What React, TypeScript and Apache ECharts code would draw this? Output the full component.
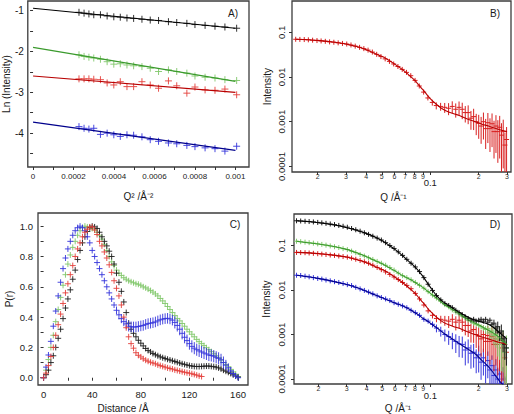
import React, { useEffect, useRef } from 'react';
import * as echarts from 'echarts';

// ---------- Panel A: Guinier plots ----------
const A_Q2 = [0.000227, 0.000252, 0.000276, 0.0003, 0.000333, 0.000366, 0.000399, 0.000431, 0.000464, 0.000497, 0.000538, 0.000579, 0.00062, 0.000669, 0.00071, 0.00076, 0.0008, 0.00085, 0.000899, 0.000948, 0.001006];
const A_BLACK = [-1.04, -1.06, -1.08, -1.10, -1.10, -1.13, -1.15, -1.16, -1.18, -1.19, -1.21, -1.23, -1.24, -1.27, -1.29, -1.31, -1.34, -1.36, -1.38, -1.40, -1.43];
const A_GREEN = [-2.08, -2.12, -2.14, -2.16, -2.19, -2.25, -2.31, -2.30, -2.33, -2.35, -2.37, -2.41, -2.49, -2.45, -2.49, -2.53, -2.60, -2.63, -2.65, -2.69, -2.71];
const A_RED = [-2.67, -2.67, -2.67, -2.68, -2.69, -2.77, -2.82, -2.74, -2.86, -2.86, -2.74, -2.82, -2.90, -2.72, -2.84, -3.02, -2.87, -2.94, -2.95, -2.92, -3.06];
const A_BLUE = [-3.84, -3.88, -3.90, -3.88, -4.03, -4.00, -4.04, -4.08, -4.04, -4.05, -4.09, -4.16, -4.20, -4.24, -4.26, -4.30, -4.33, -4.36, -4.38, -4.44, -4.32];
const A_FIT_X = [0, 0.001];
const A_FIT_BLACK = [-0.94, -1.43];
const A_FIT_GREEN = [-1.9, -2.73];
const A_FIT_RED = [-2.6, -3.0];
const A_FIT_BLUE = [-3.73, -4.42];
const A_X_TICKS = [0, 0.0001, 0.0002, 0.0003, 0.0004, 0.0005, 0.0006, 0.0007, 0.0008, 0.0009, 0.001];
const A_X_LABELS = [0, 0.0002, 0.0004, 0.0006, 0.0008, 0.001];
const A_X_LABEL_TEXT = ['0', '0.0002', '0.0004', '0.0006', '0.0008', '0.001'];
const A_Y_TICKS = [-1, -1.5, -2, -2.5, -3, -3.5, -4, -4.5];
const A_Y_LABELS = [-1, -2, -3, -4];
const A_Y_LABEL_TEXT = ['-1', '-2', '-3', '-4'];

// ---------- Panels B & D: scattering curves ----------
const Q = [0.0146, 0.0155, 0.0165, 0.0175, 0.0186, 0.0198, 0.021, 0.0223, 0.0237, 0.0252, 0.0268, 0.0285, 0.0303, 0.0322, 0.0342, 0.0364, 0.0387, 0.0411, 0.0437, 0.0465, 0.0494, 0.0525, 0.0558, 0.0593, 0.063, 0.067, 0.0712, 0.0757, 0.0805, 0.0855, 0.091, 0.0967, 0.103, 0.109, 0.116, 0.123, 0.13, 0.137, 0.144, 0.151, 0.158, 0.165, 0.172, 0.179, 0.186, 0.193, 0.2, 0.207, 0.214, 0.221, 0.228, 0.235, 0.242, 0.249, 0.256, 0.263, 0.27, 0.277, 0.284, 0.291, 0.298];
const RED_I = [0.0700, 0.0695, 0.0690, 0.0680, 0.0668, 0.0655, 0.0642, 0.0630, 0.0612, 0.0600, 0.0582, 0.0565, 0.0548, 0.0522, 0.0492, 0.0462, 0.0432, 0.0400, 0.0362, 0.0322, 0.0287, 0.0255, 0.0224, 0.0196, 0.0172, 0.0148, 0.0127, 0.0107, 0.0084, 0.0063, 0.0046, 0.0034, 0.0027, 0.0023, 0.0022, 0.0021, 0.0020, 0.0022, 0.0019, 0.0021, 0.0019, 0.0016, 0.0016, 0.0012, 0.0013, 0.0010, 0.00092, 0.0008, 0.0010, 0.0007, 0.00095, 0.0007, 0.0009, 0.0006, 0.0008, 0.0006, 0.00075, 0.0005, 0.0006, 0.0003, 0.0004];
const RED_E = [0.03, 0.03, 0.03, 0.03, 0.03, 0.03, 0.03, 0.03, 0.03, 0.03, 0.03, 0.03, 0.03, 0.03, 0.03, 0.03, 0.03, 0.03, 0.03, 0.03, 0.03, 0.03, 0.03, 0.04, 0.04, 0.05, 0.05, 0.06, 0.07, 0.08, 0.1, 0.12, 0.15, 0.18, 0.2, 0.25, 0.3, 0.3, 0.35, 0.35, 0.4, 0.4, 0.45, 0.45, 0.5, 0.5, 0.55, 0.6, 0.6, 0.65, 0.65, 0.7, 0.7, 0.75, 0.75, 0.8, 0.8, 0.85, 0.85, 0.9, 0.9];
const BLACK_I = [0.360, 0.356, 0.351, 0.346, 0.339, 0.331, 0.323, 0.315, 0.305, 0.295, 0.283, 0.271, 0.258, 0.241, 0.226, 0.210, 0.193, 0.178, 0.162, 0.147, 0.133, 0.116, 0.100, 0.086, 0.072, 0.060, 0.049, 0.040, 0.033, 0.026, 0.019, 0.0135, 0.0098, 0.0075, 0.0060, 0.0050, 0.0045, 0.0040, 0.0035, 0.0031, 0.0028, 0.0025, 0.0023, 0.0021, 0.0022, 0.0020, 0.0021, 0.0022, 0.0020, 0.0022, 0.0019, 0.0021, 0.0017, 0.0018, 0.0014, 0.0015, 0.0011, 0.0012, 0.0008, 0.0006, 0.0005];
const BLACK_E = [0.03, 0.03, 0.03, 0.03, 0.03, 0.03, 0.03, 0.03, 0.03, 0.03, 0.03, 0.03, 0.03, 0.03, 0.03, 0.03, 0.03, 0.03, 0.03, 0.03, 0.03, 0.03, 0.03, 0.03, 0.03, 0.03, 0.03, 0.03, 0.03, 0.03, 0.03, 0.05, 0.05, 0.05, 0.05, 0.05, 0.08, 0.08, 0.08, 0.08, 0.08, 0.08, 0.08, 0.08, 0.08, 0.12, 0.12, 0.12, 0.12, 0.12, 0.12, 0.12, 0.12, 0.2, 0.25, 0.3, 0.35, 0.4, 0.5, 0.55, 0.6];
const GREEN_I = [0.125, 0.122, 0.119, 0.116, 0.113, 0.109, 0.106, 0.102, 0.098, 0.094, 0.090, 0.085, 0.081, 0.075, 0.069, 0.063, 0.058, 0.053, 0.0487, 0.044, 0.040, 0.036, 0.032, 0.028, 0.024, 0.021, 0.019, 0.017, 0.0148, 0.0128, 0.0110, 0.0092, 0.0077, 0.0066, 0.0056, 0.0047, 0.0042, 0.0036, 0.0032, 0.0029, 0.0026, 0.0024, 0.0021, 0.0020, 0.0018, 0.0017, 0.0016, 0.0015, 0.0014, 0.0013, 0.00135, 0.0011, 0.0012, 0.00095, 0.0010, 0.0008, 0.0009, 0.0006, 0.0007, 0.0004, 0.0005];
const GREEN_E = [0.03, 0.03, 0.03, 0.03, 0.03, 0.03, 0.03, 0.03, 0.03, 0.03, 0.03, 0.03, 0.03, 0.03, 0.03, 0.03, 0.03, 0.03, 0.03, 0.03, 0.03, 0.03, 0.03, 0.03, 0.03, 0.03, 0.03, 0.03, 0.03, 0.03, 0.03, 0.05, 0.05, 0.05, 0.05, 0.05, 0.05, 0.05, 0.05, 0.05, 0.05, 0.08, 0.08, 0.08, 0.08, 0.08, 0.08, 0.12, 0.15, 0.2, 0.25, 0.3, 0.35, 0.4, 0.5, 0.6, 0.7, 0.75, 0.8, 0.85, 0.9];
const BLUE_I = [0.0215, 0.0212, 0.0205, 0.0198, 0.0190, 0.0182, 0.0176, 0.0168, 0.0161, 0.0154, 0.0148, 0.0140, 0.0132, 0.0126, 0.0115, 0.0106, 0.0098, 0.0090, 0.0082, 0.0074, 0.0068, 0.0063, 0.0058, 0.0052, 0.0048, 0.0044, 0.0040, 0.0035, 0.0031, 0.0027, 0.0022, 0.0020, 0.0017, 0.0014, 0.0012, 0.0010, 0.0009, 0.00078, 0.0007, 0.00062, 0.0006, 0.00045, 0.0005, 0.00038, 0.0004, 0.0003, 0.00035, 0.00024, 0.0003, 0.0002, 0.00026, 0.00016, 0.0002, 0.00012, 0.00016, 0.0001, 0.00013, 0.00008, 0.0001, 0.00006, 0.00007];
const BLUE_E = [0.03, 0.03, 0.03, 0.03, 0.03, 0.03, 0.03, 0.03, 0.03, 0.03, 0.03, 0.03, 0.03, 0.03, 0.03, 0.03, 0.03, 0.03, 0.03, 0.03, 0.03, 0.03, 0.03, 0.03, 0.03, 0.03, 0.05, 0.05, 0.05, 0.05, 0.05, 0.1, 0.15, 0.2, 0.25, 0.3, 0.35, 0.4, 0.45, 0.5, 0.5, 0.55, 0.55, 0.55, 0.55, 0.55, 0.6, 0.6, 0.6, 0.6, 0.6, 0.7, 0.7, 0.75, 0.75, 0.8, 0.8, 0.85, 0.85, 0.9, 0.9];

const FIT_Q = [0.0146, 0.02, 0.025, 0.03, 0.035, 0.04, 0.045, 0.05, 0.055, 0.06, 0.065, 0.07, 0.075, 0.08, 0.085, 0.09, 0.095, 0.1, 0.11, 0.12, 0.13, 0.14, 0.15, 0.17, 0.19, 0.21, 0.23, 0.25, 0.27, 0.3];
const RED_FIT = [0.070, 0.066, 0.061, 0.055, 0.048, 0.041, 0.034, 0.029, 0.024, 0.0195, 0.016, 0.013, 0.0105, 0.0085, 0.0066, 0.0052, 0.0041, 0.0033, 0.0024, 0.0019, 0.00165, 0.0015, 0.0014, 0.00115, 0.001, 0.00088, 0.0008, 0.00072, 0.00066, 0.0006];
const BLACK_FIT = [0.36, 0.325, 0.29, 0.252, 0.217, 0.185, 0.155, 0.128, 0.102, 0.082, 0.065, 0.051, 0.041, 0.033, 0.026, 0.020, 0.015, 0.0115, 0.0073, 0.0054, 0.0045, 0.0038, 0.0032, 0.0025, 0.0021, 0.0019, 0.0017, 0.0014, 0.0011, 0.0008];
const GREEN_FIT = [0.125, 0.108, 0.095, 0.082, 0.068, 0.056, 0.046, 0.039, 0.032, 0.027, 0.0225, 0.0195, 0.0172, 0.015, 0.013, 0.0113, 0.0097, 0.0084, 0.0064, 0.005, 0.0041, 0.0035, 0.003, 0.0022, 0.0018, 0.0015, 0.00125, 0.00105, 0.00085, 0.0006];
const BLUE_FIT = [0.0215, 0.0183, 0.0155, 0.0133, 0.0112, 0.0093, 0.0078, 0.0067, 0.0058, 0.0051, 0.0046, 0.0041, 0.0036, 0.0031, 0.0027, 0.0023, 0.00205, 0.0018, 0.0014, 0.0011, 0.0009, 0.00075, 0.00064, 0.00048, 0.00037, 0.00026, 0.00019, 0.00013, 0.00009, 0.00006];

const LOGX_TICKS = [0.02, 0.03, 0.04, 0.05, 0.06, 0.07, 0.08, 0.09, 0.1, 0.2, 0.3];
const LOGX_TEXT = ['2', '3', '4', '5', '6', '7', '8', '9', '0.1', '2', '3'];
const LOGY_TICKS = [0.0001, 0.001, 0.01, 0.1];
const LOGY_TEXT = ['0.0001', '0.001', '0.01', '0.1'];

// ---------- Panel C: P(r) ----------
const R = [0, 2, 4, 6, 8, 10, 12, 14, 16, 18, 20, 22, 24, 26, 28, 30, 32, 34, 36, 38, 40, 42, 44, 46, 48, 50, 52, 54, 56, 58, 60, 62, 64, 66, 68, 70, 72, 74, 76, 78, 80, 82, 84, 86, 88, 90, 92, 94, 96, 98, 100, 102, 104, 106, 108, 110, 112, 114, 116, 118, 120, 122, 124, 126, 128, 130, 132, 134, 136, 138, 140, 142, 144, 146, 148, 150, 152, 154, 156, 158, 160];
const P_BLUE = [0.0, 0.07, 0.15, 0.24, 0.34, 0.44, 0.54, 0.63, 0.72, 0.79, 0.85, 0.90, 0.94, 0.97, 0.99, 1.0, 0.99, 0.97, 0.93, 0.89, 0.84, 0.80, 0.76, 0.72, 0.68, 0.64, 0.60, 0.56, 0.52, 0.48, 0.445, 0.415, 0.39, 0.37, 0.355, 0.34, 0.336, 0.335, 0.335, 0.338, 0.342, 0.345, 0.352, 0.357, 0.36, 0.363, 0.368, 0.375, 0.382, 0.387, 0.39, 0.392, 0.388, 0.38, 0.365, 0.345, 0.32, 0.293, 0.267, 0.245, 0.225, 0.207, 0.195, 0.185, 0.177, 0.17, 0.163, 0.157, 0.15, 0.147, 0.142, 0.135, 0.128, 0.118, 0.10, 0.083, 0.065, 0.045, 0.028, 0.012, 0.0];
const P_BLUE_E = [0.01, 0.012, 0.015, 0.015, 0.015, 0.015, 0.015, 0.015, 0.015, 0.015, 0.02, 0.02, 0.02, 0.02, 0.02, 0.02, 0.02, 0.02, 0.02, 0.02, 0.02, 0.02, 0.02, 0.02, 0.02, 0.02, 0.02, 0.02, 0.02, 0.02, 0.025, 0.03, 0.03, 0.03, 0.035, 0.035, 0.035, 0.035, 0.035, 0.035, 0.035, 0.035, 0.035, 0.035, 0.035, 0.035, 0.035, 0.035, 0.035, 0.035, 0.035, 0.035, 0.035, 0.035, 0.04, 0.04, 0.04, 0.04, 0.04, 0.04, 0.04, 0.04, 0.04, 0.04, 0.04, 0.04, 0.04, 0.04, 0.04, 0.04, 0.04, 0.04, 0.04, 0.04, 0.04, 0.035, 0.03, 0.025, 0.02, 0.015, 0.01];
const P_GREEN = [0.0, 0.05, 0.12, 0.2, 0.28, 0.37, 0.45, 0.53, 0.61, 0.68, 0.75, 0.81, 0.86, 0.90, 0.94, 0.97, 0.99, 1.0, 0.995, 0.99, 0.985, 0.975, 0.96, 0.94, 0.915, 0.88, 0.84, 0.80, 0.765, 0.74, 0.71, 0.69, 0.675, 0.66, 0.65, 0.64, 0.633, 0.627, 0.62, 0.617, 0.61, 0.60, 0.593, 0.585, 0.575, 0.565, 0.553, 0.54, 0.523, 0.507, 0.49, 0.47, 0.45, 0.43, 0.41, 0.39, 0.375, 0.358, 0.34, 0.32, 0.303, 0.287, 0.27, 0.253, 0.238, 0.225, 0.212, 0.198, 0.185, 0.172, 0.158, 0.145, 0.132, 0.117, 0.10, 0.087, 0.072, 0.055, 0.038, 0.022, 0.008];
const P_GREEN_E = [0.005, 0.006, 0.008, 0.008, 0.008, 0.008, 0.008, 0.008, 0.008, 0.008, 0.008, 0.008, 0.008, 0.008, 0.008, 0.008, 0.008, 0.008, 0.008, 0.008, 0.008, 0.008, 0.008, 0.008, 0.008, 0.008, 0.008, 0.008, 0.008, 0.008, 0.008, 0.008, 0.008, 0.008, 0.008, 0.008, 0.008, 0.008, 0.008, 0.008, 0.008, 0.008, 0.008, 0.008, 0.008, 0.008, 0.008, 0.008, 0.008, 0.008, 0.008, 0.008, 0.008, 0.008, 0.008, 0.008, 0.008, 0.008, 0.008, 0.008, 0.008, 0.008, 0.008, 0.008, 0.008, 0.008, 0.008, 0.008, 0.008, 0.008, 0.008, 0.008, 0.008, 0.008, 0.008, 0.008, 0.008, 0.007, 0.006, 0.005, 0.004];
const P_RED = [0.0, 0.03, 0.08, 0.14, 0.2, 0.28, 0.35, 0.42, 0.49, 0.56, 0.62, 0.68, 0.74, 0.80, 0.85, 0.89, 0.93, 0.96, 0.98, 0.995, 0.995, 0.975, 0.945, 0.90, 0.87, 0.83, 0.79, 0.745, 0.695, 0.64, 0.59, 0.54, 0.48, 0.40, 0.33, 0.27, 0.225, 0.195, 0.165, 0.148, 0.137, 0.125, 0.116, 0.109, 0.102, 0.097, 0.092, 0.085, 0.08, 0.075, 0.07, 0.065, 0.061, 0.057, 0.052, 0.048, 0.044, 0.04, 0.036, 0.033, 0.03, 0.026, 0.022, 0.017, 0.012, 0.008];
const P_RED_E = [0.005, 0.008, 0.01, 0.01, 0.01, 0.01, 0.01, 0.01, 0.01, 0.01, 0.01, 0.01, 0.01, 0.01, 0.01, 0.01, 0.01, 0.01, 0.01, 0.01, 0.01, 0.01, 0.012, 0.012, 0.015, 0.015, 0.015, 0.015, 0.015, 0.015, 0.018, 0.02, 0.02, 0.02, 0.02, 0.02, 0.02, 0.02, 0.02, 0.02, 0.02, 0.02, 0.02, 0.02, 0.02, 0.02, 0.02, 0.02, 0.02, 0.02, 0.02, 0.02, 0.02, 0.02, 0.02, 0.02, 0.02, 0.02, 0.02, 0.02, 0.02, 0.02, 0.018, 0.015, 0.012, 0.01];
const P_BLACK = [0.0, 0.02, 0.05, 0.10, 0.145, 0.2, 0.26, 0.32, 0.39, 0.46, 0.52, 0.58, 0.65, 0.71, 0.78, 0.84, 0.89, 0.93, 0.965, 0.99, 1.0, 0.995, 0.985, 0.96, 0.93, 0.90, 0.87, 0.835, 0.80, 0.75, 0.69, 0.63, 0.57, 0.50, 0.43, 0.36, 0.32, 0.293, 0.27, 0.247, 0.228, 0.21, 0.193, 0.18, 0.17, 0.16, 0.152, 0.145, 0.138, 0.132, 0.127, 0.122, 0.117, 0.112, 0.107, 0.102, 0.097, 0.092, 0.088, 0.084, 0.08, 0.077, 0.075, 0.074, 0.074, 0.075, 0.076, 0.077, 0.077, 0.075, 0.073, 0.07, 0.065, 0.058, 0.05, 0.043, 0.036, 0.028, 0.019, 0.011, 0.004];
const P_BLACK_E = [0.005, 0.008, 0.01, 0.01, 0.01, 0.01, 0.01, 0.01, 0.01, 0.01, 0.01, 0.01, 0.01, 0.01, 0.01, 0.01, 0.01, 0.01, 0.01, 0.01, 0.01, 0.01, 0.01, 0.012, 0.012, 0.015, 0.015, 0.015, 0.015, 0.018, 0.02, 0.02, 0.02, 0.02, 0.02, 0.02, 0.018, 0.015, 0.015, 0.015, 0.012, 0.012, 0.012, 0.012, 0.012, 0.012, 0.012, 0.012, 0.012, 0.012, 0.012, 0.012, 0.012, 0.012, 0.012, 0.012, 0.012, 0.012, 0.012, 0.012, 0.012, 0.012, 0.012, 0.012, 0.012, 0.012, 0.012, 0.012, 0.012, 0.012, 0.012, 0.012, 0.012, 0.012, 0.012, 0.01, 0.01, 0.01, 0.01, 0.01, 0.005];
const C_X_TICKS = [0, 20, 40, 60, 80, 100, 120, 140, 160];
const C_X_LABELS = [0, 40, 80, 120, 160];
const C_Y_TICKS = [0, 0.1, 0.2, 0.3, 0.4, 0.5, 0.6, 0.7, 0.8, 0.9, 1.0];
const C_Y_LABELS = [0, 0.2, 0.4, 0.6, 0.8, 1.0];
const C_Y_TEXT = ['0.0', '0.2', '0.4', '0.6', '0.8', '1.0'];

// ---------- style ----------
const FONT = 'Liberation Sans, Arial, Helvetica, sans-serif';
const COL = {
  blackPt: '#1e1e1e', blackLn: '#000000',
  greenPt: '#82c86c', greenLn: '#3a9a2c',
  redPt: '#d82020', redLn: '#b80000',
  bluePt: '#3535dc', blueLn: '#00008c',
};
const TXT = '#1a1a1a';

const lookup = (vals: number[], texts: string[]) => (v: number) => {
  for (let i = 0; i < vals.length; i++) {
    if (Math.abs(vals[i] - v) <= Math.abs(vals[i]) * 1e-6 + 1e-12) return texts[i];
  }
  return '';
};

const crossRender = (color: string, half: number, lw: number, opacity: number) =>
  (_params: any, api: any) => {
    const x = api.value(0);
    const y = api.value(1);
    const lo = api.value(2);
    const hi = api.value(3);
    const c = api.coord([x, y]);
    const a = api.coord([x, hi]);
    const b = api.coord([x, lo]);
    const top = Math.min(a[1], c[1] - half);
    const bot = Math.max(b[1], c[1] + half);
    return {
      type: 'group',
      children: [
        { type: 'line', shape: { x1: c[0] - half, y1: c[1], x2: c[0] + half, y2: c[1] }, style: { stroke: color, lineWidth: lw, opacity } },
        { type: 'line', shape: { x1: c[0], y1: top, x2: c[0], y2: bot }, style: { stroke: color, lineWidth: lw, opacity } },
      ],
    };
  };

const crossSeries = (idx: number, data: number[][], color: string, half: number, lw = 1, opacity = 0.9) => ({
  type: 'custom',
  xAxisIndex: idx,
  yAxisIndex: idx,
  clip: true,
  encode: { x: 0, y: 1 },
  renderItem: crossRender(color, half, lw, opacity),
  data,
  silent: true,
});

const lineSeries = (idx: number, xs: number[], ys: number[], color: string, width = 1.1, smooth: boolean | number = false) => ({
  type: 'line',
  xAxisIndex: idx,
  yAxisIndex: idx,
  data: xs.map((x, i) => [x, ys[i]]),
  showSymbol: false,
  symbol: 'none',
  smooth,
  clip: true,
  lineStyle: { color, width },
  silent: true,
});

const plain = (xs: number[], ys: number[]) => xs.map((x, i) => [x, ys[i], ys[i], ys[i]]);
const relErr = (xs: number[], ys: number[], es: number[], floor: number) =>
  xs.map((x, i) => [x, ys[i], Math.max(ys[i] * (1 - es[i]), floor), ys[i] * (1 + es[i])]);
const absErr = (xs: number[], ys: number[], es: number[]) =>
  ys.map((y, i) => [xs[i], y, y - es[i], y + es[i]]);

const grids = [
  { left: 27, top: 1, width: 222, height: 166 },
  { left: 292, top: 1, width: 219, height: 171 },
  { left: 38, top: 213, width: 210, height: 173 },
  { left: 294, top: 214, width: 218, height: 171 },
];

const tickStyle = { show: true, length: 3, lineStyle: { color: '#333', width: 1 } };

const logXAxis = (gridIndex: number, min: number, max: number, margin: number, nameGap: number, namePadRight: number, bigPad: number) => ({
  type: 'log',
  gridIndex,
  min,
  max,
  axisLine: { show: false },
  splitLine: { show: false },
  axisTick: { ...tickStyle, customValues: LOGX_TICKS },
  axisLabel: {
    customValues: LOGX_TICKS,
    margin,
    formatter: (v: number) => {
      const t = lookup(LOGX_TICKS, LOGX_TEXT)(v);
      return t === '0.1' ? '{b|' + t + '}' : '{s|' + t + '}';
    },
    rich: {
      s: { fontSize: 7, color: '#333', fontFamily: FONT },
      b: { fontSize: 9.5, color: TXT, fontFamily: FONT, padding: [bigPad, 0, 0, 0] },
    },
  },
  name: 'Q /Å⁻¹',
  nameLocation: 'middle',
  nameGap,
  nameTextStyle: { fontSize: 10, color: TXT, fontFamily: FONT, padding: [0, namePadRight, 0, 0] },
});

const logYAxis = (gridIndex: number, min: number, max: number, margin: number, nameGap: number) => ({
  type: 'log',
  gridIndex,
  min,
  max,
  axisLine: { show: false },
  splitLine: { show: false },
  axisTick: { ...tickStyle, customValues: LOGY_TICKS },
  axisLabel: {
    customValues: LOGY_TICKS,
    rotate: 90,
    margin,
    fontSize: 9.5,
    color: TXT,
    fontFamily: FONT,
    formatter: (v: number) => lookup(LOGY_TICKS, LOGY_TEXT)(v),
  },
  name: 'Intensity',
  nameLocation: 'middle',
  nameGap,
  nameTextStyle: { fontSize: 10, color: TXT, fontFamily: FONT },
});

const buildOption = () => ({
  animation: false,
  backgroundColor: '#ffffff',
  textStyle: { fontFamily: FONT },
  grid: grids.map((g) => ({ ...g, show: true, borderColor: '#3c3c3c', borderWidth: 1.3, backgroundColor: 'transparent' })),
  xAxis: [
    {
      type: 'value', gridIndex: 0, min: -0.000026, max: 0.001067,
      axisLine: { show: false }, splitLine: { show: false },
      axisTick: { ...tickStyle, customValues: A_X_TICKS },
      axisLabel: {
        customValues: A_X_LABELS, fontSize: 8, margin: 5, color: TXT, fontFamily: FONT,
        formatter: (v: number) => lookup(A_X_LABELS, A_X_LABEL_TEXT)(v),
      },
      name: 'Q² /Å⁻²', nameLocation: 'middle', nameGap: 24,
      nameTextStyle: { fontSize: 10, color: TXT, fontFamily: FONT },
    },
    logXAxis(1, 0.01385, 0.3174, 1, 20, 16, 4),
    {
      type: 'value', gridIndex: 2, min: -4.6, max: 168.2,
      axisLine: { show: false }, splitLine: { show: false },
      axisTick: { ...tickStyle, customValues: C_X_TICKS },
      axisLabel: {
        customValues: C_X_LABELS, fontSize: 9.5, margin: 4, color: TXT, fontFamily: FONT,
        formatter: (v: number) => String(Math.round(v)),
      },
      name: 'Distance /Å', nameLocation: 'middle', nameGap: 18,
      nameTextStyle: { fontSize: 10, color: TXT, fontFamily: FONT, padding: [0, 40, 0, 0] },
    },
    logXAxis(3, 0.01408, 0.3228, 1, 19, 10, 5),
  ],
  yAxis: [
    {
      type: 'value', gridIndex: 0, min: -4.829, max: -0.763,
      axisLine: { show: false }, splitLine: { show: false },
      axisTick: { ...tickStyle, customValues: A_Y_TICKS },
      axisLabel: {
        customValues: A_Y_LABELS, fontSize: 10, margin: 4, color: TXT, fontFamily: FONT,
        formatter: (v: number) => lookup(A_Y_LABELS, A_Y_LABEL_TEXT)(v),
      },
      name: 'Ln (Intensity)', nameLocation: 'middle', nameGap: 12,
      nameTextStyle: { fontSize: 10, color: TXT, fontFamily: FONT },
    },
    logYAxis(1, 0.0000749, 0.503, 6, 20),
    {
      type: 'value', gridIndex: 2, min: -0.048, max: 1.087,
      axisLine: { show: false }, splitLine: { show: false },
      axisTick: { ...tickStyle, customValues: C_Y_TICKS },
      axisLabel: {
        customValues: C_Y_LABELS, fontSize: 9.5, margin: 5, color: TXT, fontFamily: FONT,
        formatter: (v: number) => lookup(C_Y_LABELS, C_Y_TEXT)(v),
      },
      name: 'P(r)', nameLocation: 'middle', nameGap: 24,
      nameTextStyle: { fontSize: 10, color: TXT, fontFamily: FONT },
    },
    logYAxis(3, 0.0000774, 0.511, 8, 23),
  ],
  series: [
    // Panel A
    crossSeries(0, plain(A_Q2, A_BLACK), COL.blackPt, 3.5),
    crossSeries(0, plain(A_Q2, A_GREEN), COL.greenPt, 3.5),
    crossSeries(0, plain(A_Q2, A_RED), '#e4403c', 3.5),
    crossSeries(0, plain(A_Q2, A_BLUE), COL.bluePt, 3.5),
    lineSeries(0, A_FIT_X, A_FIT_BLACK, COL.blackLn, 1.2),
    lineSeries(0, A_FIT_X, A_FIT_GREEN, COL.greenLn, 1.2),
    lineSeries(0, A_FIT_X, A_FIT_RED, COL.redLn, 1.2),
    lineSeries(0, A_FIT_X, A_FIT_BLUE, COL.blueLn, 1.2),
    // Panel B
    crossSeries(1, relErr(Q, RED_I, RED_E, 0.00005), COL.redPt, 2.5, 1, 1),
    lineSeries(1, FIT_Q, RED_FIT, COL.redLn, 1.1, 0.3),
    // Panel C
    crossSeries(2, absErr(R, P_GREEN, P_GREEN_E), COL.greenPt, 3),
    crossSeries(2, absErr(R, P_BLACK, P_BLACK_E), COL.blackPt, 3),
    crossSeries(2, absErr(R, P_BLUE, P_BLUE_E), COL.bluePt, 3),
    crossSeries(2, absErr(R, P_RED, P_RED_E), '#e4403c', 3),
    // Panel D
    crossSeries(3, relErr(Q, BLUE_I, BLUE_E, 0.00005), COL.bluePt, 2.5, 1, 1),
    crossSeries(3, relErr(Q, RED_I, RED_E, 0.00005), COL.redPt, 2.5, 1, 1),
    crossSeries(3, relErr(Q, GREEN_I, GREEN_E, 0.00005), COL.greenPt, 2.5, 1, 1),
    crossSeries(3, relErr(Q, BLACK_I, BLACK_E, 0.00005), COL.blackPt, 2.5, 1, 1),
    lineSeries(3, FIT_Q, BLUE_FIT, COL.blueLn, 1.1, 0.3),
    lineSeries(3, FIT_Q, RED_FIT, COL.redLn, 1.1, 0.3),
    lineSeries(3, FIT_Q, GREEN_FIT, COL.greenLn, 1.1, 0.3),
    lineSeries(3, FIT_Q, BLACK_FIT, COL.blackLn, 1.1, 0.3),
  ],
  graphic: [
    { type: 'text', x: 233, y: 13, style: { text: 'A)', align: 'center', verticalAlign: 'middle', fontSize: 10, fill: TXT, fontFamily: FONT } },
    { type: 'text', x: 495, y: 13, style: { text: 'B)', align: 'center', verticalAlign: 'middle', fontSize: 10, fill: TXT, fontFamily: FONT } },
    { type: 'text', x: 235, y: 224, style: { text: 'C)', align: 'center', verticalAlign: 'middle', fontSize: 10, fill: TXT, fontFamily: FONT } },
    { type: 'text', x: 495, y: 224, style: { text: 'D)', align: 'center', verticalAlign: 'middle', fontSize: 10, fill: TXT, fontFamily: FONT } },
  ],
});

export default function App() {
  const ref = useRef<HTMLDivElement>(null);
  useEffect(() => {
    if (!ref.current) return;
    const chart = echarts.init(ref.current, undefined, { renderer: 'svg' });
    chart.setOption(buildOption() as any);
    return () => chart.dispose();
  }, []);
  return (
    <div
      ref={ref}
      style={{ position: 'absolute', left: 0, top: 0, width: 514, height: 414, background: '#fff' }}
    />
  );
}
